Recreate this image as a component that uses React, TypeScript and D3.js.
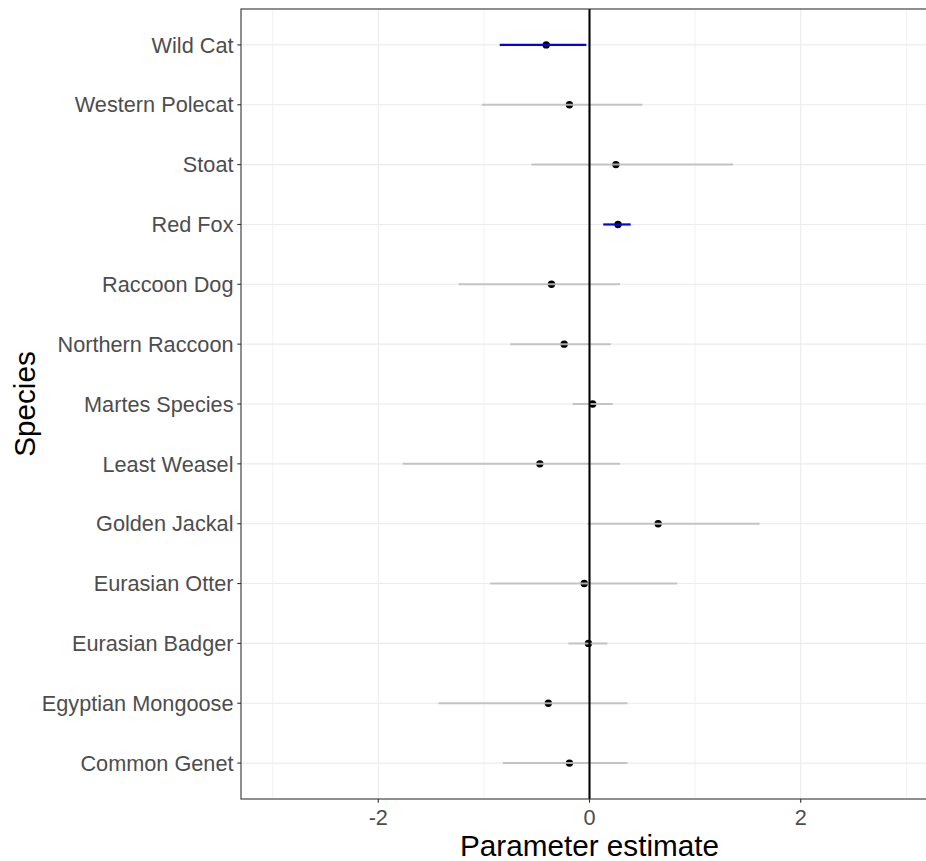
import React from "react";
import * as d3 from "d3";

// Species, listed top to bottom
const species = [
  "Wild Cat",
  "Western Polecat",
  "Stoat",
  "Red Fox",
  "Raccoon Dog",
  "Northern Raccoon",
  "Martes Species",
  "Least Weasel",
  "Golden Jackal",
  "Eurasian Otter",
  "Eurasian Badger",
  "Egyptian Mongoose",
  "Common Genet",
];

// Parameter estimates with lower / upper interval bounds
const estimate = [-0.41, -0.19, 0.25, 0.27, -0.36, -0.24, 0.03, -0.47, 0.65, -0.05, -0.01, -0.39, -0.19];
const lower = [-0.85, -1.02, -0.55, 0.13, -1.24, -0.75, -0.16, -1.77, -0.02, -0.94, -0.2, -1.43, -0.82];
const upper = [-0.03, 0.5, 1.36, 0.39, 0.29, 0.2, 0.22, 0.29, 1.61, 0.83, 0.17, 0.36, 0.36];
// Intervals that exclude zero are highlighted
const significant = [true, false, false, true, false, false, false, false, false, false, false, false, false];

const majorTicks = [-2, 0, 2];
const minorTicks = [-3, -1, 1, 3];

const W = 926;
const H = 861;
const panel = { left: 241, top: 9, right: 938, bottom: 799 };
const FONT = "'Liberation Sans', Arial, sans-serif";

export default function App() {
  const x = d3.scaleLinear().domain([-3.3, 3.3]).range([panel.left, panel.right]);
  const y = d3
    .scalePoint<string>()
    .domain(species)
    .range([panel.top, panel.bottom])
    .padding(0.6);

  const rows = species.map((s, i) => ({
    s,
    est: estimate[i],
    lo: lower[i],
    hi: upper[i],
    sig: significant[i],
  }));

  return (
    <svg
      width={W}
      height={H}
      style={{ position: "absolute", left: 0, top: 0, background: "#fff" }}
    >
      <rect x={0} y={0} width={W} height={H} fill="#fff" />
      {/* grid */}
      {minorTicks.map((t) => (
        <line
          key={"mn" + t}
          x1={x(t)}
          x2={x(t)}
          y1={panel.top}
          y2={panel.bottom}
          stroke="#F2F2F2"
          strokeWidth={1}
        />
      ))}
      {majorTicks.map((t) => (
        <line
          key={"mj" + t}
          x1={x(t)}
          x2={x(t)}
          y1={panel.top}
          y2={panel.bottom}
          stroke="#EBEBEB"
          strokeWidth={1.1}
        />
      ))}
      {species.map((s) => (
        <line
          key={"gy" + s}
          x1={panel.left}
          x2={panel.right}
          y1={y(s)}
          y2={y(s)}
          stroke="#EBEBEB"
          strokeWidth={1.1}
        />
      ))}

      {/* points */}
      {rows.map((r) => (
        <circle key={"pt" + r.s} cx={x(r.est)} cy={y(r.s)} r={3.7} fill="#000" />
      ))}
      {/* interval segments */}
      {rows.map((r) => (
        <line
          key={"ci" + r.s}
          x1={x(r.lo)}
          x2={x(r.hi)}
          y1={y(r.s)}
          y2={y(r.s)}
          stroke={r.sig ? "#0000FF" : "#BEBEBE"}
          strokeWidth={r.sig ? 2.2 : 2}
          strokeOpacity={r.sig ? 1 : 0.9}
        />
      ))}
      {/* zero reference line */}
      <line
        x1={x(0)}
        x2={x(0)}
        y1={panel.top}
        y2={panel.bottom}
        stroke="#000"
        strokeWidth={2.1}
      />

      {/* panel border */}
      <rect
        x={panel.left}
        y={panel.top}
        width={panel.right - panel.left}
        height={panel.bottom - panel.top}
        fill="none"
        stroke="#333333"
        strokeWidth={1.1}
      />

      {/* y axis */}
      {species.map((s) => (
        <g key={"yt" + s}>
          <line
            x1={panel.left - 3.7}
            x2={panel.left}
            y1={y(s)}
            y2={y(s)}
            stroke="#333333"
            strokeWidth={1.1}
          />
          <text
            x={panel.left - 7.5}
            y={(y(s) as number) + 7.7}
            textAnchor="end"
            fontFamily={FONT}
            fontSize={21.7}
            fill="#4D4D4D"
          >
            {s}
          </text>
        </g>
      ))}

      {/* x axis */}
      {majorTicks.map((t) => (
        <g key={"xt" + t}>
          <line
            x1={x(t)}
            x2={x(t)}
            y1={panel.bottom}
            y2={panel.bottom + 3.7}
            stroke="#333333"
            strokeWidth={1.1}
          />
          <text
            x={x(t)}
            y={824.5}
            textAnchor="middle"
            fontFamily={FONT}
            fontSize={21.7}
            fill="#4D4D4D"
          >
            {d3.format("")(t).replace("−", "-")}
          </text>
        </g>
      ))}

      {/* axis titles */}
      <text
        x={(panel.left + panel.right) / 2}
        y={856}
        textAnchor="middle"
        fontFamily={FONT}
        fontSize={29.7}
        fill="#000"
      >
        Parameter estimate
      </text>
      <text
        transform={`translate(35, ${(panel.top + panel.bottom) / 2}) rotate(-90)`}
        textAnchor="middle"
        fontFamily={FONT}
        fontSize={29.7}
        fill="#000"
      >
        Species
      </text>
    </svg>
  );
}
